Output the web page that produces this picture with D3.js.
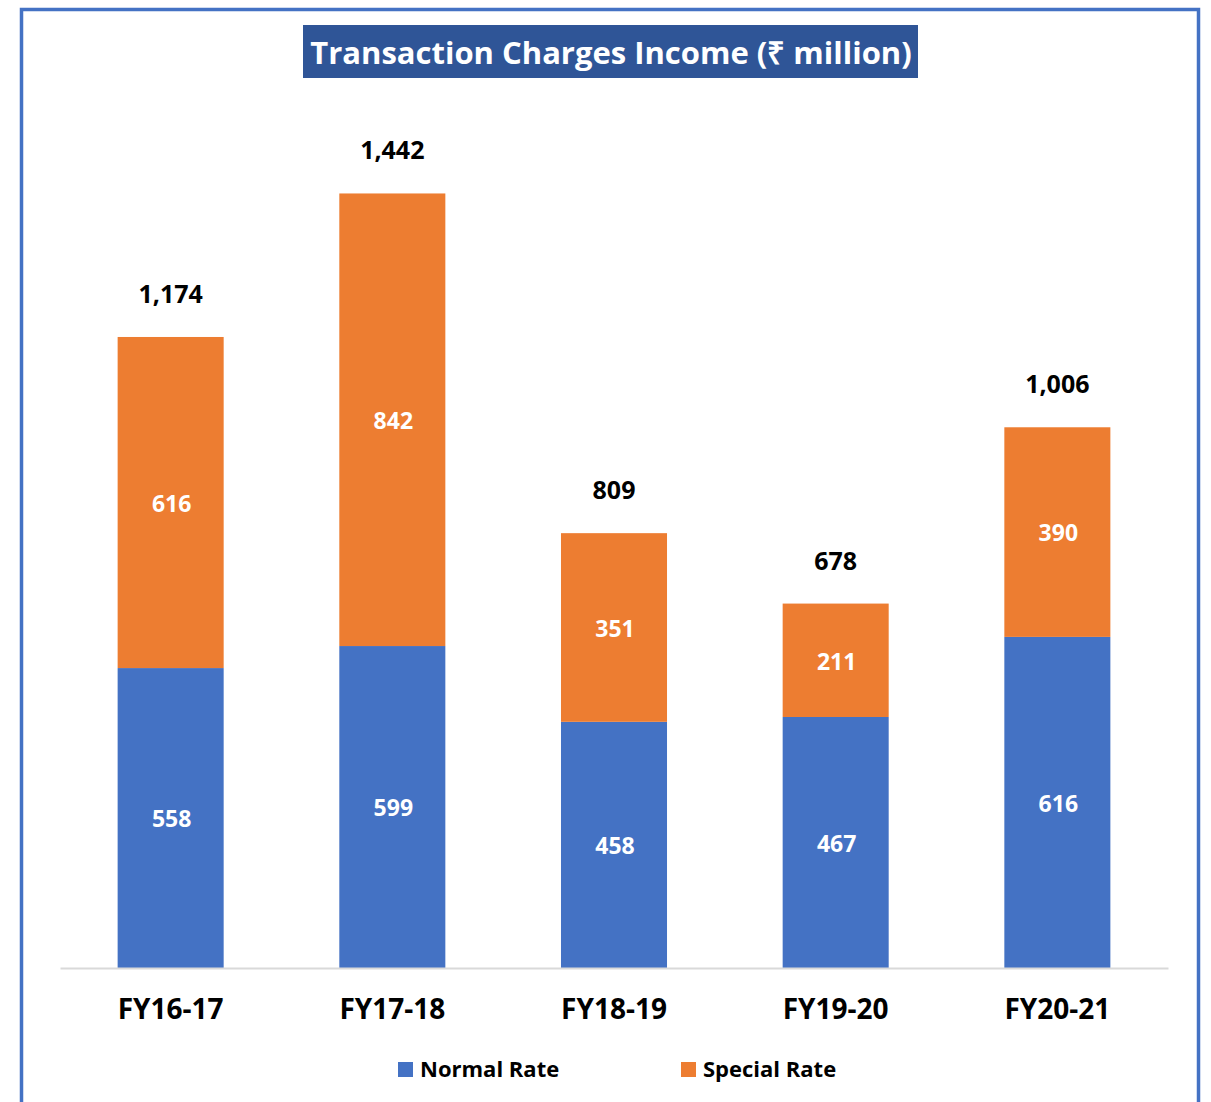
<!DOCTYPE html>
<html>
<head>
<meta charset="utf-8">
<script src="https://cdn.jsdelivr.net/npm/d3@7"></script>
<style>
  body { margin: 0; background: #fff; }
  text { font-family: "Open Sans", sans-serif; font-weight: bold; }
</style>
</head>
<body>
<div id="chartContainer"></div>
<script>
// data
var years = ["FY16-17", "FY17-18", "FY18-19", "FY19-20", "FY20-21"];
var normalRate = [558, 599, 458, 467, 616];
var specialRate = [616, 842, 351, 211, 390];
var totals = [1174, 1442, 809, 678, 1006];
var seriesNames = ["Normal Rate", "Special Rate"];
var colors = ["#4472C4", "#ED7D31"];

var W = 1211, H = 1102;
var svg = d3.select("#chartContainer").append("svg")
  .attr("width", W).attr("height", H);

// outer frame (bottom edge runs off the picture)
svg.append("rect")
  .attr("x", 21.5).attr("y", 9.5)
  .attr("width", 1177).attr("height", 1120)
  .attr("fill", "none").attr("stroke", "#4472C4").attr("stroke-width", 3.5);

// title box
svg.append("rect")
  .attr("x", 303).attr("y", 25).attr("width", 615).attr("height", 53)
  .attr("fill", "#2F5597");
svg.append("text")
  .attr("x", 611).attr("y", 64)
  .attr("text-anchor", "middle")
  .style("font-size", "31px").style("fill", "#fff")
  .text("Transaction Charges Income (\u20B9 million)");

var x = d3.scaleBand().domain(years).range([60, 1168])
  .paddingInner(0.5217).paddingOuter(0.26);
var y = d3.scaleLinear().domain([0, 1600]).range([968, 108]);

var rows = years.map(function (yr, i) {
  return { year: yr, "Normal Rate": normalRate[i], "Special Rate": specialRate[i] };
});
var stacked = d3.stack().keys(seriesNames)(rows);

var layers = svg.selectAll("g.layer").data(stacked).enter().append("g")
  .attr("class", "layer")
  .attr("fill", function (d, i) { return colors[i]; });

layers.selectAll("rect").data(function (d) { return d; }).enter().append("rect")
  .attr("x", function (d) { return x(d.data.year); })
  .attr("y", function (d) { return y(d[1]); })
  .attr("width", x.bandwidth())
  .attr("height", function (d) { return y(d[0]) - y(d[1]); });

// value labels inside the segments
layers.selectAll("text").data(function (d) { return d; }).enter().append("text")
  .attr("x", function (d) { return x(d.data.year) + x.bandwidth() / 2 + 1; })
  .attr("y", function (d) { return (y(d[0]) + y(d[1])) / 2 + 1; })
  .attr("dy", "0.36em")
  .attr("text-anchor", "middle")
  .style("font-size", "23px").style("fill", "#fff")
  .text(function (d) { return d[1] - d[0]; });

// totals above the bars
svg.selectAll("text.total").data(years).enter().append("text")
  .attr("class", "total")
  .attr("x", function (d) { return x(d) + x.bandwidth() / 2; })
  .attr("y", function (d, i) { return y(totals[i]) - 34; })
  .attr("text-anchor", "middle")
  .style("font-size", "25px").style("fill", "#000")
  .text(function (d, i) { return d3.format(",")(totals[i]); });

// x axis
var xAxis = svg.append("g")
  .attr("transform", "translate(0,968)")
  .call(d3.axisBottom(x).tickSize(0).tickPadding(31));
xAxis.select(".domain").attr("stroke", "#D9D9D9").attr("stroke-width", 2);
xAxis.selectAll("text")
  .style("font-size", "28px").style("fill", "#000")
  .style("font-family", "'Open Sans', sans-serif").style("font-weight", "bold");

// legend
var legendX = [398, 681];
var legend = svg.selectAll("g.legend").data(seriesNames).enter().append("g")
  .attr("class", "legend")
  .attr("transform", function (d, i) { return "translate(" + legendX[i] + ",1062)"; });
legend.append("rect").attr("width", 15).attr("height", 15)
  .attr("fill", function (d, i) { return colors[i]; });
legend.append("text").attr("x", 22).attr("y", 15)
  .style("font-size", "22px").style("fill", "#000")
  .text(function (d) { return d; });
</script>
</body>
</html>
